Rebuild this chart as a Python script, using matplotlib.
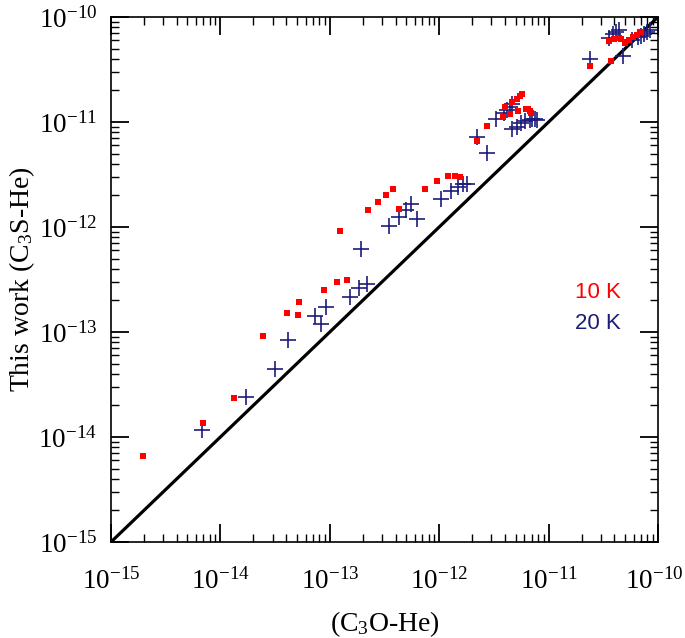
import matplotlib
matplotlib.use("Agg")
import matplotlib.pyplot as plt
import matplotlib.transforms as mtransforms
from matplotlib.ticker import LogLocator, FixedLocator, NullFormatter

plt.rcParams['mathtext.fontset'] = 'custom'
plt.rcParams['mathtext.rm'] = 'Liberation Serif'
plt.rcParams['mathtext.it'] = 'Liberation Serif:italic'
plt.rcParams['font.family'] = ['Liberation Serif', 'DejaVu Serif']

# 10 K series: x = C3O-He rate, y = C3S-He rate (this work)
x_10K = [1.96e-15, 6.9e-15, 1.33e-14, 2.45e-14, 4.06e-14, 5.1e-14, 5.2e-14, 8.85e-14,
         1.16e-13, 1.44e-13, 1.24e-13, 2.23e-13, 2.76e-13, 3.27e-13, 3.78e-13, 4.29e-13,
         7.42e-13, 9.55e-13, 1.20e-12, 1.39e-12, 1.55e-12, 2.22e-12, 2.73e-12, 3.83e-12,
         3.99e-12, 4.43e-12, 4.62e-12, 5.14e-12, 5.48e-12, 5.71e-12, 5.25e-12, 6.21e-12,
         6.48e-12, 6.76e-12, 6.90e-12, 2.39e-11, 3.72e-11, 3.56e-11, 3.96e-11, 4.40e-11,
         4.59e-11, 4.99e-11, 5.43e-11, 5.90e-11, 6.42e-11, 7.00e-11]
y_10K = [6.6e-15, 1.36e-14, 2.35e-14, 9.2e-14, 1.52e-13, 1.45e-13, 1.93e-13, 2.51e-13,
         2.99e-13, 3.13e-13, 9.2e-13, 1.45e-12, 1.73e-12, 2.02e-12, 2.30e-12, 1.48e-12,
         2.30e-12, 2.74e-12, 3.06e-12, 3.06e-12, 2.99e-12, 6.59e-12, 9.16e-12, 1.12e-11,
         1.39e-11, 1.19e-11, 1.55e-11, 1.66e-11, 1.77e-11, 1.85e-11, 1.27e-11, 1.33e-11,
         1.33e-11, 1.27e-11, 1.22e-11, 3.41e-11, 3.81e-11, 5.91e-11, 6.17e-11, 6.31e-11,
         6.17e-11, 5.65e-11, 6.04e-11, 6.45e-11, 6.74e-11, 7.20e-11]

# 20 K series
x_20K = [6.79e-15, 1.71e-14, 3.16e-14, 4.15e-14, 7.32e-14, 8.31e-14, 9.23e-14, 1.53e-13,
         1.85e-13, 2.19e-13, 1.93e-13, 3.47e-13, 4.29e-13, 4.98e-13, 5.52e-13, 6.27e-13,
         1.04e-12, 1.28e-12, 1.49e-12, 1.65e-12, 1.80e-12, 2.22e-12, 2.73e-12, 3.31e-12,
         3.91e-12, 4.17e-12, 4.43e-12, 4.62e-12, 4.62e-12, 5.14e-12, 5.60e-12, 6.08e-12,
         6.76e-12, 7.05e-12, 7.51e-12, 7.83e-12, 2.39e-11, 3.56e-11, 3.88e-11, 4.13e-11,
         4.40e-11, 4.78e-11, 5.78e-11, 6.56e-11, 7.00e-11, 7.45e-11, 7.93e-11, 8.45e-11]
y_20K = [1.17e-14, 2.40e-14, 4.45e-14, 8.4e-14, 1.42e-13, 1.19e-13, 1.73e-13, 2.15e-13,
         2.62e-13, 2.86e-13, 6.17e-13, 1.02e-12, 1.25e-12, 1.45e-12, 1.66e-12, 1.19e-12,
         1.85e-12, 2.20e-12, 2.40e-12, 2.57e-12, 2.57e-12, 7.20e-12, 5.07e-12, 1.07e-11,
         1.22e-11, 1.30e-11, 1.39e-11, 1.48e-11, 8.58e-12, 8.95e-12, 9.78e-12, 1.02e-11,
         1.05e-11, 1.07e-11, 1.07e-11, 1.05e-11, 3.98e-11, 6.31e-11, 6.89e-11, 7.20e-11,
         7.52e-11, 4.25e-11, 6.04e-11, 6.45e-11, 6.59e-11, 6.89e-11, 7.20e-11, 7.52e-11]

limits = [1e-15, 1e-10]
major_ticks = [1e-15, 1e-14, 1e-13, 1e-12, 1e-11, 1e-10]
tick_labels = [r'$10^{-15}$', r'$10^{-14}$', r'$10^{-13}$', r'$10^{-12}$', r'$10^{-11}$', r'$10^{-10}$']
legend_labels = ['10 K', '20 K']
color_10K = '#ff0000'
color_20K = '#1c1c7a'

fig = plt.figure(figsize=(6.85, 6.38), dpi=100)
ax = fig.add_axes([111/685, 1 - 542/638, 547/685, 525/638])

ax.set_xscale('log')
ax.set_yscale('log')

ax.plot(limits, limits, color='black', lw=2.3, zorder=1)
ax.plot(x_10K, y_10K, linestyle='none', marker='s', markersize=4.0,
        color=color_10K, markeredgewidth=0, zorder=3)
ax.plot(x_20K, y_20K, linestyle='none', marker='+', markersize=11,
        markeredgewidth=1.2, color=color_20K, zorder=2)

ax.set_xlim(limits)
ax.set_ylim(limits)

for axis in (ax.xaxis, ax.yaxis):
    axis.set_major_locator(FixedLocator(major_ticks))
    axis.set_minor_locator(LogLocator(base=10, subs=range(2, 10), numticks=20))
    axis.set_minor_formatter(NullFormatter())
ax.set_xticklabels(tick_labels)
ax.set_yticklabels(tick_labels)

ax.tick_params(which='both', direction='in', top=True, right=True,
               labeltop=False, labelright=False)
ax.tick_params(which='major', length=13, width=1.3, labelsize=19.5)
ax.tick_params(which='minor', length=6, width=1.0)
ax.tick_params(axis='x', which='major', pad=19)
ax.tick_params(axis='y', which='major', pad=10)

# nudge the last x tick label slightly left so it stays inside the figure
last = ax.get_xticklabels()[-1]
last.set_transform(last.get_transform() +
                   mtransforms.ScaledTranslation(-4/100, 0, fig.dpi_scale_trans))

for s in ax.spines.values():
    s.set_linewidth(1.2)

ax.set_xlabel(r'(C$_3$O-He)', fontsize=20, labelpad=10)
ax.set_ylabel(r'This work (C$_3$S-He)', fontsize=20)
ax.yaxis.set_label_coords(-0.135, 0.5)

ax.text(0.848, 0.476, legend_labels[0], transform=ax.transAxes, color=color_10K,
        fontsize=16, family='Liberation Sans', va='center', ha='left')
ax.text(0.848, 0.417, legend_labels[1], transform=ax.transAxes, color=color_20K,
        fontsize=16, family='Liberation Sans', va='center', ha='left')

fig.savefig('out.png', dpi=100)
